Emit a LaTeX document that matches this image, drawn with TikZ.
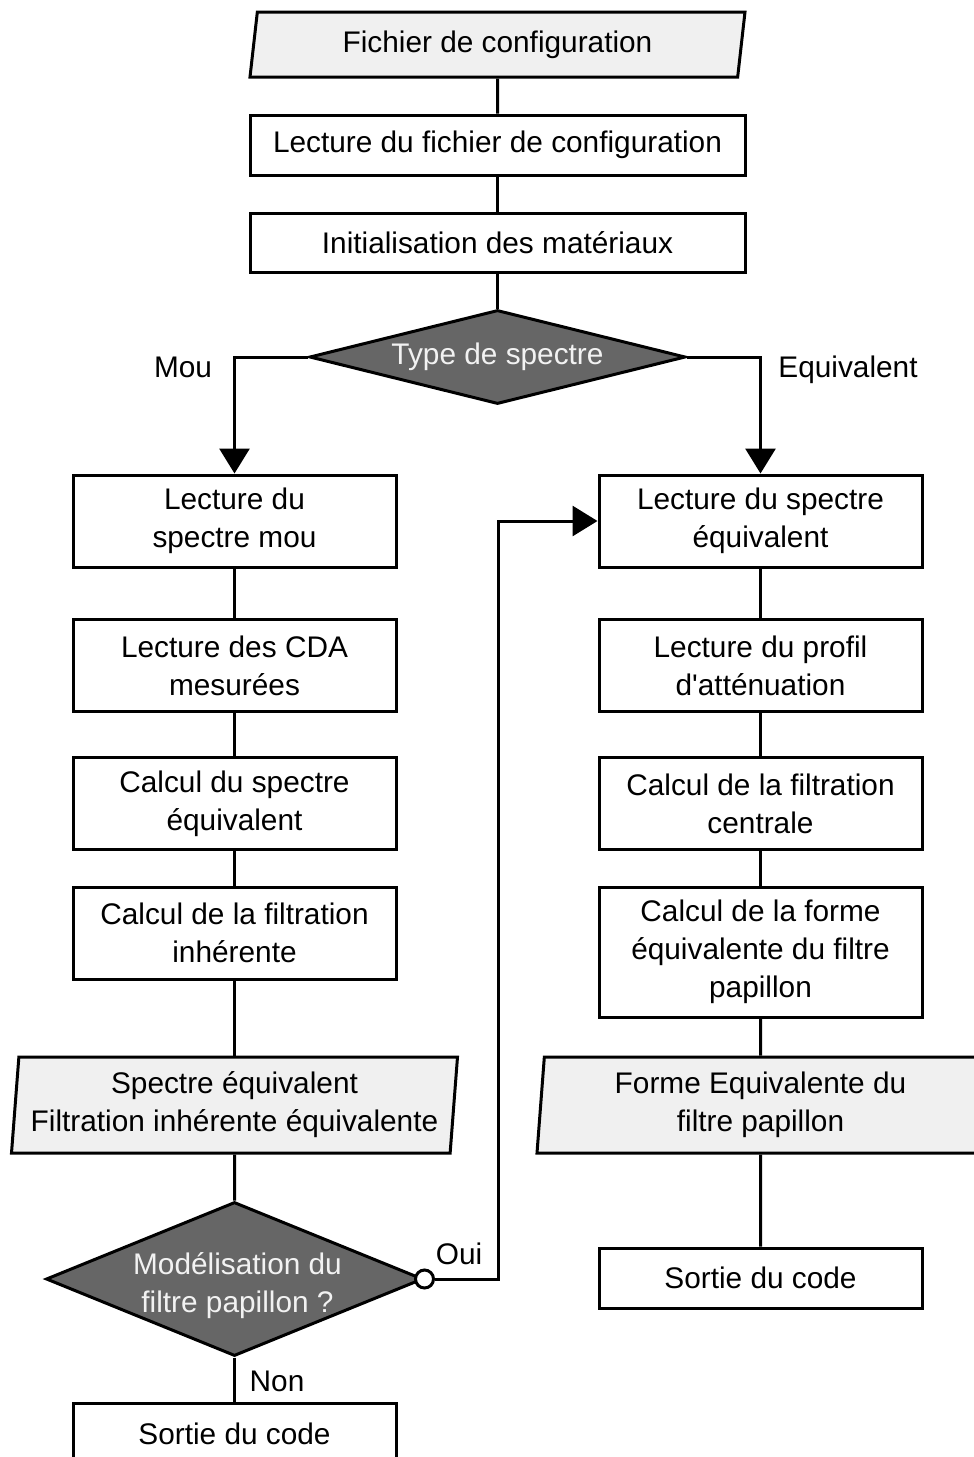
\documentclass[tikz,border=0pt]{standalone}
\usepackage{fontspec}
\setmainfont{Liberation Sans}
\usepackage{xcolor}
\usepackage{tikz}
\usetikzlibrary{arrows.meta,calc,positioning,shapes.geometric}
\definecolor{lineblack}{RGB}{0,0,0}
\definecolor{datagrey}{RGB}{240,240,240}
\definecolor{decisiongrey}{RGB}{102,102,102}
\definecolor{decisiontext}{RGB}{242,242,242}
\tikzset{
  process/.style={draw=lineblack,line width=1.5pt,fill=white,
    align=center,inner sep=2pt,minimum width=161.5pt,minimum height=46pt},
  databox/.style={trapezium,draw=lineblack,line width=1.5pt,fill=datagrey,
    trapezium stretches body,trapezium left angle=84,trapezium right angle=96,
    align=center,inner sep=1pt,minimum width=223pt,minimum height=48pt},
  decision/.style={diamond,draw=lineblack,line width=1.5pt,fill=decisiongrey,
    text=decisiontext,align=center,inner sep=0pt},
  decisionlabel/.style={text=decisiontext,align=center,inner sep=0pt},
  port/.style={circle,draw=lineblack,line width=1.5pt,fill=white,
    minimum size=9pt,inner sep=0pt},
  flow/.style={-{Triangle[length=12.5pt,width=15pt]},line width=1.5pt,draw=lineblack},
  link/.style={line width=1.5pt,draw=lineblack},
  smalllabel/.style={anchor=base,inner sep=0pt}
}

\begin{document}
\begin{tikzpicture}[x=0.5pt,y=-0.5pt,font=\fontsize{14.9pt}{19pt}\selectfont]
  \useasboundingbox (0,0) rectangle (974,1457);
  % tronc commun
  \node[databox,trapezium left angle=77,trapezium right angle=103,
    minimum width=247.5pt,minimum height=32.5pt] (cfgfile) at (497.5,44.5) {Fichier de configuration};
  \node[process,minimum width=247.5pt,minimum height=30pt] (readcfg) at (497.5,145) {Lecture du fichier de configuration};
  \node[process,minimum width=247.5pt,minimum height=29.5pt] (initmat) at (497.5,242.5) {Initialisation des mat\'eriaux};
  \node[decision,aspect=4,minimum width=188pt,minimum height=47pt] (spectype) at (497.5,357) {Type de spectre};
  % branche spectre mou
  \node[process] (lmou) at (234.5,521) {Lecture du\\spectre mou};
  \node[process] (lcda) at (234.5,665.5) {Lecture des CDA\\mesur\'ees};
  \node[process] (calcspec) at (234.5,803.5) {Calcul du spectre\\\'equivalent};
  \node[process] (calcinh) at (234.5,933) {Calcul de la filtration\\inh\'erente};
  \node[databox] (specout) at (234.5,1105) {Spectre \'equivalent\\Filtration inh\'erente \'equivalente};
  \node[decision,aspect=2.45,minimum width=188.5pt,minimum height=77pt,
    label={[decisionlabel,xshift=1.5pt,yshift=-3.5pt]center:Mod\'elisation du\\filtre papillon ?}] (modfilt) at (234.5,1279) {};
  \node[port] (ouiport) at (modfilt.east) {};
  \coordinate (ouiturn) at (498,1279);
  \node[process,minimum height=31pt] (sortmou) at (234.5,1434) {Sortie du code};
  % branche spectre equivalent
  \node[process] (lequiv) at (760.5,521) {Lecture du spectre\\\'equivalent};
  \node[process] (lprofil) at (760.5,665.5) {Lecture du profil\\d\textquotesingle att\'enuation};
  \node[process] (calcfilt) at (760.5,803.5) {Calcul de la filtration\\centrale};
  \node[process,minimum height=65pt] (calcforme) at (760.5,952) {Calcul de la forme\\\'equivalente du filtre\\papillon};
  \node[databox,minimum width=223.5pt] (formeout) at (760.5,1105) {Forme Equivalente du\\filtre papillon};
  \node[process,minimum height=30pt] (sorteq) at (760.5,1278) {Sortie du code};
  % labels
  \node[smalllabel] (moulbl) at (183,377) {Mou};
  \node[smalllabel] (eqlbl) at (848,377) {Equivalent};
  \node[smalllabel] (ouilbl) at (459,1264) {Oui};
  \node[smalllabel] (nonlbl) at (277,1391) {Non};
  % liaisons
  \draw[link] (cfgfile) -- (readcfg);
  \draw[link] (readcfg) -- (initmat);
  \draw[link] (initmat) -- (spectype);
  \draw[flow] (spectype.west) -| (lmou.north);
  \draw[flow] (spectype.east) -| (lequiv.north);
  \draw[link] (lmou) -- (lcda);
  \draw[link] (lcda) -- (calcspec);
  \draw[link] (calcspec) -- (calcinh);
  \draw[link] (calcinh) -- (specout);
  \draw[link] (specout) -- (modfilt);
  \draw[link] (modfilt.south) -- (sortmou.north);
  \draw[flow] (ouiport.east) -- (ouiturn) |- (lequiv.west);
  \draw[link] (lequiv) -- (lprofil);
  \draw[link] (lprofil) -- (calcfilt);
  \draw[link] (calcfilt) -- (calcforme);
  \draw[link] (calcforme) -- (formeout);
  \draw[link] (formeout) -- (sorteq);
\end{tikzpicture}
\end{document}
